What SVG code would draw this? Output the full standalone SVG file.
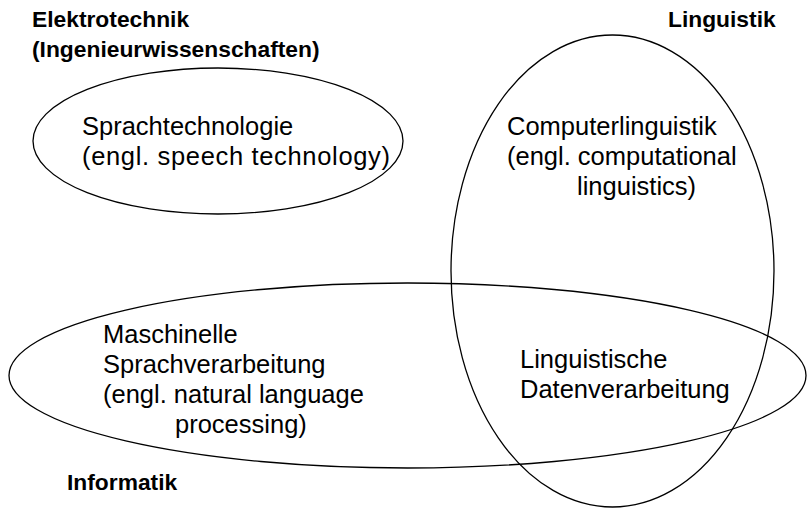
<svg xmlns="http://www.w3.org/2000/svg" width="807" height="509" viewBox="0 0 807 509">
<style>
.bg{fill:#ffffff}
.ell{fill:none;stroke:#000000;stroke-width:1.3}
.t{font-family:"Liberation Sans",Arial,sans-serif;font-size:25.5px;fill:#000000}
.b{font-family:"Liberation Sans",Arial,sans-serif;font-size:22.8px;font-weight:bold;fill:#000000}
</style>
<rect class="bg" x="0" y="0" width="807" height="509"/>
<g id="connectors"></g>
<g id="sprachtechnologie">
<ellipse class="ell" cx="218" cy="141" rx="185" ry="73"/>
<text class="t" x="82" y="135">Sprachtechnologie</text>
<text class="t" x="82" y="165" textLength="308" lengthAdjust="spacing">(engl. speech technology)</text>
</g>
<g id="computerlinguistik">
<ellipse class="ell" cx="612.5" cy="271" rx="161.5" ry="236"/>
<text class="t" x="507" y="135">Computerlinguistik</text>
<text class="t" x="507" y="165">(engl. computational</text>
<text class="t" x="577" y="195">linguistics)</text>
</g>
<g id="maschinelle-sprachverarbeitung">
<ellipse class="ell" cx="407.5" cy="375.5" rx="398.5" ry="92.5"/>
<text class="t" x="103" y="343">Maschinelle</text>
<text class="t" x="103" y="373">Sprachverarbeitung</text>
<text class="t" x="103" y="403">(engl. natural language</text>
<text class="t" x="175" y="433">processing)</text>
</g>
<g id="linguistische-datenverarbeitung">
<text class="t" x="520" y="368">Linguistische</text>
<text class="t" x="520" y="398">Datenverarbeitung</text>
</g>
<g id="label-elektrotechnik">
<text class="b" x="32" y="27">Elektrotechnik</text>
<text class="b" x="32" y="57">(Ingenieurwissenschaften)</text>
</g>
<g id="label-linguistik">
<text class="b" x="668" y="27">Linguistik</text>
</g>
<g id="label-informatik">
<text class="b" x="67" y="490">Informatik</text>
</g>
</svg>
